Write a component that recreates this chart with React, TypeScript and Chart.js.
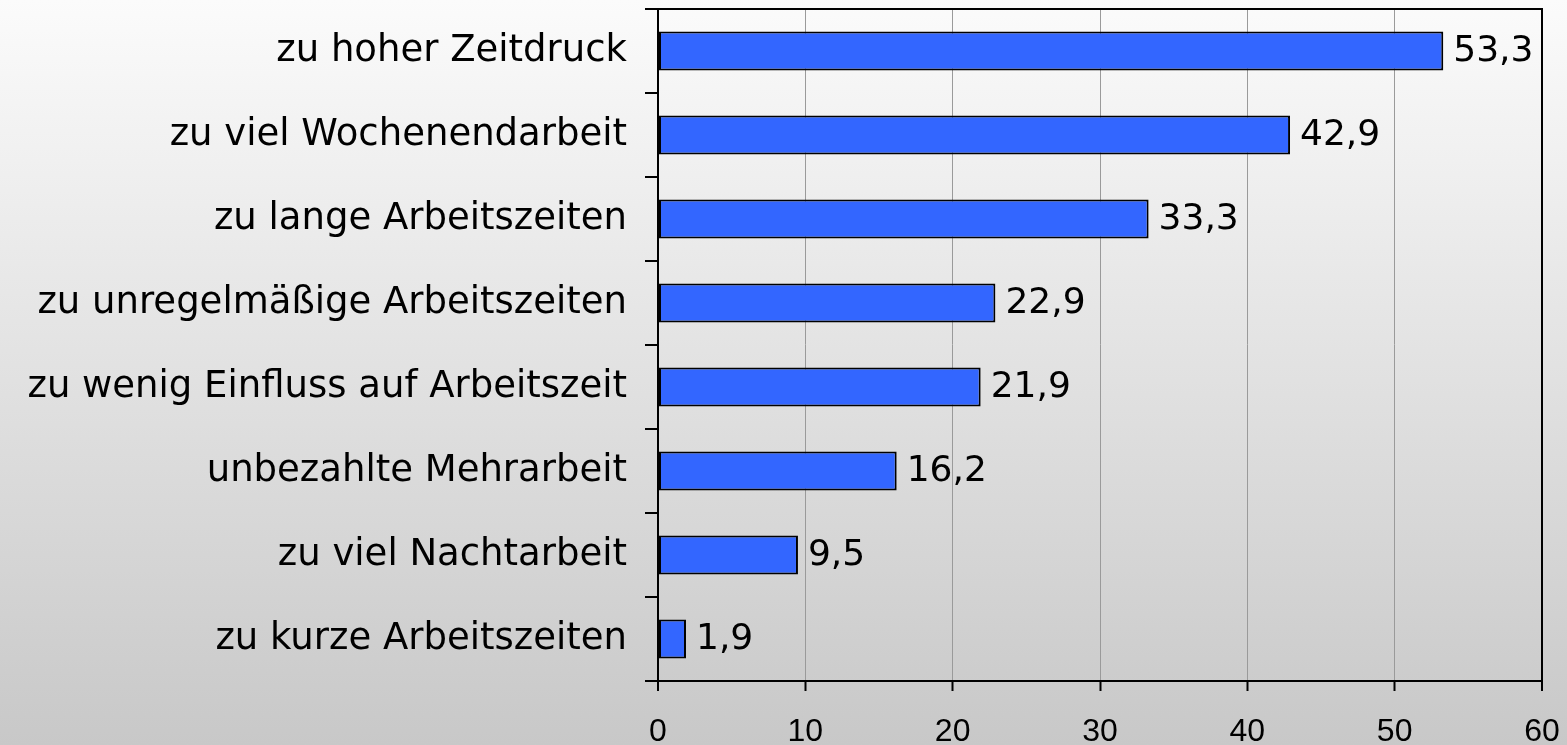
import React, { useEffect, useRef } from "react";
import { Chart, registerables } from "chart.js";

Chart.register(...registerables);

const categories: string[] = [
  "zu hoher Zeitdruck",
  "zu viel Wochenendarbeit",
  "zu lange Arbeitszeiten",
  "zu unregelmäßige Arbeitszeiten",
  "zu wenig Einfluss auf Arbeitszeit",
  "unbezahlte Mehrarbeit",
  "zu viel Nachtarbeit",
  "zu kurze Arbeitszeiten",
];
const values: number[] = [53.3, 42.9, 33.3, 22.9, 21.9, 16.2, 9.5, 1.9];
const xMin = 0;
const xMax = 60;
const xStep = 10;

const formatValue = (v: number) => v.toFixed(1).replace(".", ",");

const valueLabelPlugin = {
  id: "valueLabels",
  afterDatasetsDraw(chart: any) {
    const ctx = chart.ctx;
    const meta = chart.getDatasetMeta(0);
    ctx.save();
    ctx.font = "36px 'DejaVu Sans'";
    ctx.fillStyle = "#000";
    ctx.textAlign = "left";
    ctx.textBaseline = "middle";
    meta.data.forEach((bar: any, i: number) => {
      ctx.fillText(formatValue(values[i]), bar.x + 10, bar.y + 1);
    });
    ctx.restore();
  },
};

const topBorderPlugin = {
  id: "topBorder",
  afterDraw(chart: any) {
    const { ctx, chartArea } = chart;
    ctx.save();
    ctx.strokeStyle = "#000";
    ctx.lineWidth = 2;
    ctx.beginPath();
    ctx.moveTo(chartArea.left - 13, chartArea.top);
    ctx.lineTo(chartArea.right + 1, chartArea.top);
    ctx.stroke();
    ctx.restore();
  },
};

export default function App() {
  const canvasRef = useRef<HTMLCanvasElement | null>(null);

  useEffect(() => {
    if (!canvasRef.current) return;
    const chart = new Chart(canvasRef.current, {
      type: "bar",
      data: {
        labels: categories,
        datasets: [
          {
            data: values,
            backgroundColor: "#3366FF",
            borderColor: "#000",
            borderWidth: 2,
            borderSkipped: false,
            barPercentage: 0.465,
            categoryPercentage: 1,
          },
        ],
      },
      options: {
        indexAxis: "y",
        animation: false,
        responsive: false,
        devicePixelRatio: 1,
        layout: { padding: { top: 9, right: 25, left: 0, bottom: 0 } },
        plugins: {
          legend: { display: false },
          tooltip: { enabled: false },
        },
        scales: {
          x: {
            min: xMin,
            max: xMax,
            ticks: {
              stepSize: xStep,
              color: "#000",
              font: { family: "'Liberation Sans'", size: 32 },
              padding: 22,
            },
            grid: {
              color: (c: any) =>
                c.tick && (c.tick.value === xMax || c.tick.value === xMin) ? "#000" : "#9a9a9a",
              lineWidth: (c: any) =>
                c.tick && (c.tick.value === xMax || c.tick.value === xMin) ? 2 : 1,
              tickColor: "#000",
              tickLength: 10,
              tickWidth: 2,
            },
            border: { color: "#000", width: 2 },
            afterFit: (scale: any) => {
              scale.height = 64;
              scale.paddingLeft = 0;
              scale.paddingRight = 0;
            },
          },
          y: {
            offset: true,
            ticks: {
              color: "#000",
              font: { family: "'DejaVu Sans'", size: 37 },
              padding: 18,
            },
            grid: {
              offset: true,
              drawOnChartArea: false,
              tickColor: "#000",
              tickLength: 13,
              lineWidth: 2,
            },
            border: { color: "#000", width: 2 },
            afterFit: (scale: any) => {
              scale.width = 658;
              scale.paddingTop = 0;
              scale.paddingBottom = 0;
            },
          },
        },
      },
      plugins: [valueLabelPlugin, topBorderPlugin],
    });
    return () => chart.destroy();
  }, []);

  return (
    <div
      style={{
        position: "fixed",
        left: 0,
        top: 0,
        width: 1567,
        height: 745,
        background: "linear-gradient(to bottom, #fbfbfb 0%, #c8c8c8 100%)",
      }}
    >
      <canvas ref={canvasRef} width={1567} height={745} style={{ display: "block" }} />
    </div>
  );
}
